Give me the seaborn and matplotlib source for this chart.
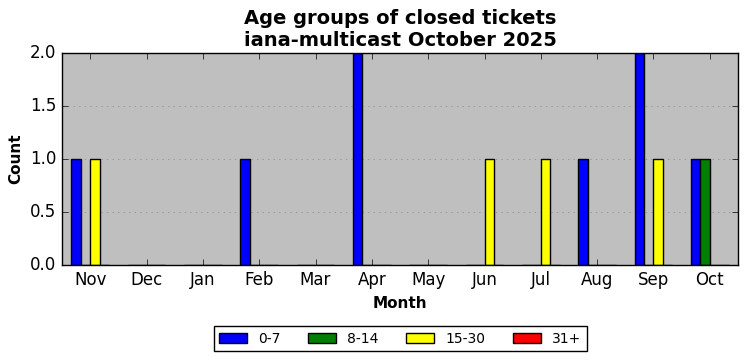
import pandas as pd
import seaborn as sns
import matplotlib
matplotlib.use("Agg")
import matplotlib.pyplot as plt

# ---------- data ----------
months = ['Nov', 'Dec', 'Jan', 'Feb', 'Mar', 'Apr', 'May', 'Jun', 'Jul', 'Aug', 'Sep', 'Oct']
age_groups = ['0-7', '8-14', '15-30', '31+']
colors = ['blue', 'green', 'yellow', 'red']

cnt_0_7 = [1, 0, 0, 1, 0, 2, 0, 0, 0, 1, 2, 1]
cnt_8_14 = [0, 0, 0, 0, 0, 0, 0, 0, 0, 0, 0, 1]
cnt_15_30 = [1, 0, 0, 0, 0, 0, 0, 1, 1, 0, 1, 0]
cnt_31 = [0, 0, 0, 0, 0, 0, 0, 0, 0, 0, 0, 0]

rows = []
for grp, vals in zip(age_groups, [cnt_0_7, cnt_8_14, cnt_15_30, cnt_31]):
    for m, v in zip(months, vals):
        rows.append({'Month': m, 'Age': grp, 'Count': v})
df = pd.DataFrame(rows)

# ---------- plot ----------
plt.style.use('classic')
fig = plt.figure(figsize=(7.47, 3.61), dpi=100)
ax = fig.add_axes([62 / 747, 1 - 265 / 361, 676 / 747, 212 / 361])

sns.barplot(data=df, x='Month', y='Count', hue='Age', order=months,
            hue_order=age_groups, palette=colors, width=0.67,
            edgecolor='black', linewidth=1, saturation=1, ax=ax)

ax.set_facecolor('#bfbfbf')
ax.set_xlim(-0.5, 11.5)
ax.set_ylim(0, 2.0)
ax.set_yticks([0, 0.5, 1.0, 1.5, 2.0])
ax.yaxis.grid(True, linestyle=':', color='#888888')
ax.xaxis.grid(False)
ax.set_axisbelow(True)
ax.tick_params(labelsize=12)
ax.set_xlabel('Month', fontsize=11, fontweight='bold')
ax.set_ylabel('Count', fontsize=11, fontweight='bold')
ax.set_title('Age groups of closed tickets\niana-multicast October 2025',
             fontsize=14, fontweight='bold', linespacing=1.2)

ax.legend(loc='upper center', bbox_to_anchor=(0.5, -0.255), ncol=4,
          fontsize=10, frameon=True, fancybox=False, handlelength=2.0,
          columnspacing=2.0, borderpad=0.4)

fig.savefig('out.png', dpi=100)
